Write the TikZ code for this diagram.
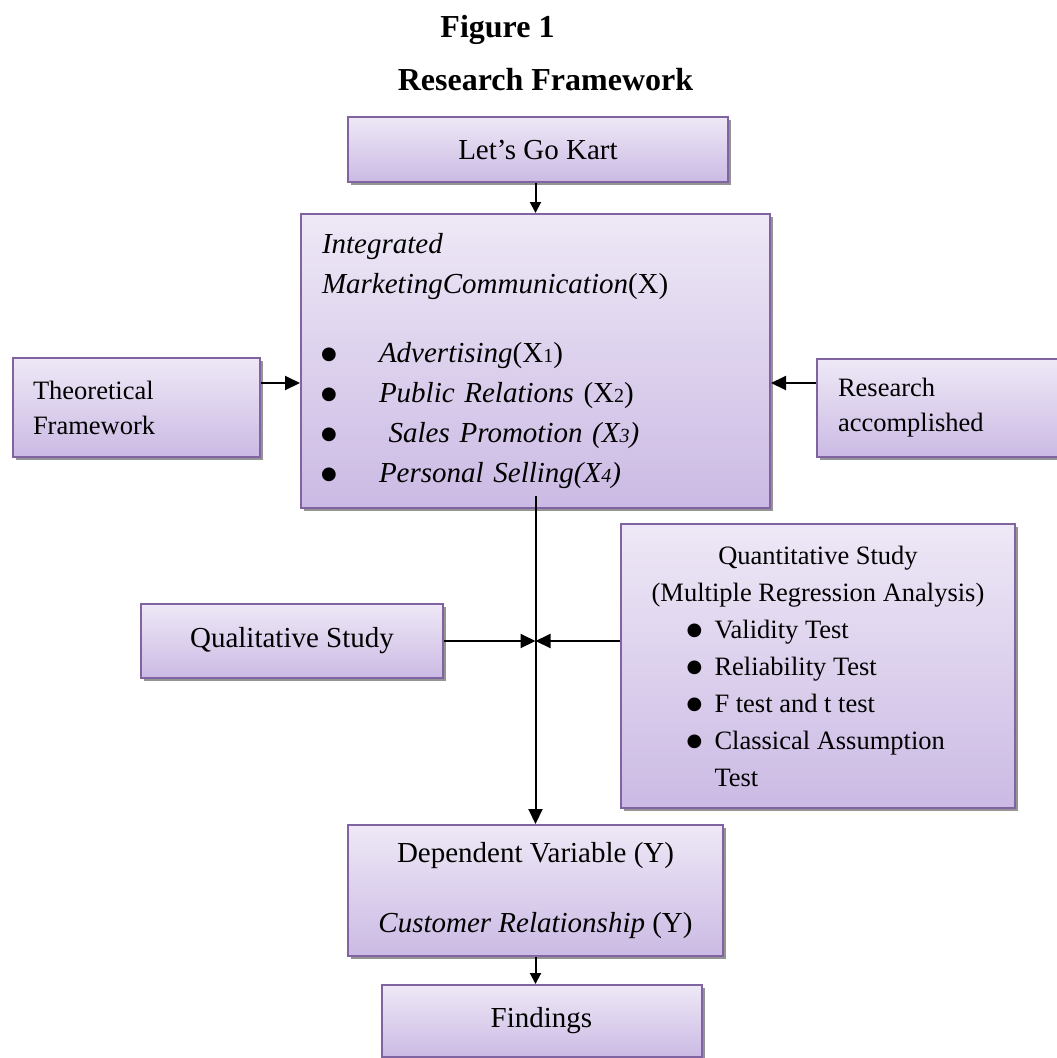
\documentclass[tikz,border=0pt]{standalone}
\usepackage{fontspec}
\setmainfont{Liberation Serif}
\newfontfamily\dotfont{DejaVu Sans}
\usepackage{tikz}
\usetikzlibrary{arrows.meta}
\usetikzlibrary{shadows}
\definecolor{boxtop}{RGB}{238,232,246}
\definecolor{boxbot}{RGB}{203,186,228}
\definecolor{boxline}{RGB}{128,100,162}
\tikzset{box/.style={draw=boxline, line width=2pt, top color=boxtop, bottom color=boxbot,
    drop shadow={shadow xshift=3pt, shadow yshift=-3pt, fill=black!42, opacity=1},
    inner sep=0pt, font=\fontsize{29}{40}\selectfont},
  smallbox/.style={box, font=\fontsize{26.5}{35}\selectfont},
  arr/.style={-{Triangle[length=15pt,width=14pt]}, line width=2pt},
  shortarr/.style={-{Triangle[length=11pt,width=11pt]}, line width=2pt},
  title/.style={font=\bfseries\fontsize{32}{38}\selectfont, anchor=base}}
\newcommand{\bigdot}{\raisebox{3pt}{\dotfont\fontsize{18}{18}\selectfont ●}}
\newcommand{\ibul}{\makebox[57pt][l]{\hspace{-1pt}\bigdot}}
\newcommand{\qitem}[1]{\makebox[333pt][l]{\hspace{35pt}\makebox[28pt][l]{\bigdot}#1}}
\newcommand{\smallnum}[1]{{\fontsize{20}{20}\selectfont #1}}

\begin{document}
\begin{tikzpicture}[x=1pt, y=-1pt]
    \useasboundingbox (0,0) rectangle (1057,1058);
    \clip (0,0) rectangle (1057,1058);

    \node[title] (fig) at (497.5, 37) {Figure 1};
    \node[title] (rf) at (545.5, 90) {Research Framework};

    \node[box, minimum width=380pt, minimum height=65pt] at (538, 149.5) (kart) {Let’s Go Kart};
    \node[box, minimum width=469pt, minimum height=294pt, text width=427pt, align=left] at (535.5, 361) (imc)
      {\textit{Integrated}\\
       \textit{MarketingCommunication}(X)\\[29pt]
       \ibul\textit{Advertising}(X\smallnum{1})\\
       \ibul\textit{Public Relations} (X\smallnum{2})\\
       \ibul\textit{ Sales Promotion (X\smallnum{3})}\\
       \ibul\textit{Personal Selling(X\smallnum{4})}};
    \node[smallbox, minimum width=247pt, minimum height=99pt, text width=207pt, align=left] at (136.5, 407.5) (theo) {Theoretical\\Framework};
    \node[smallbox, minimum width=260pt, minimum height=98pt, text width=218pt, align=left] at (947, 408) (res) {Research\\accomplished};
    \node[box, minimum width=302pt, minimum height=74pt] at (292, 641) (qual) {Qualitative Study};
    \node[smallbox, minimum width=394pt, minimum height=284pt, align=center, font=\fontsize{26.5}{37}\selectfont] at (818, 666) (quant)
      {Quantitative Study\\
       (Multiple Regression Analysis)\\
       \qitem{Validity Test}\\
       \qitem{Reliability Test}\\
       \qitem{F test and t test}\\
       \qitem{Classical Assumption}\\
       \makebox[333pt][l]{\hspace{63pt}Test}};
    \node[box, minimum width=375pt, minimum height=131pt, align=center] at (535.5, 890.5) (dep)
      {Dependent Variable (Y)\\[30pt]\textit{Customer Relationship} (Y)};
    \node[box, minimum width=320pt, minimum height=72pt] at (541.5, 1021) (find) {Findings};

    \coordinate (tl) at (0, 383);
    \coordinate (mid) at (imc.south |- qual.east);

    \draw[shortarr] (kart.south -| imc.north) -- (imc.north);
    \draw[arr] (theo.east |- tl) -- (imc.west |- tl);
    \draw[arr] (res.west |- tl) -- (imc.east |- tl);
    \draw[arr] ([yshift=13pt]imc.south) -- (dep.north);
    \draw[arr] (qual.east) -- (mid);
    \draw[arr] (quant.west |- mid) -- (mid);
    \draw[shortarr] (dep.south) -- (dep.south |- find.north);
\end{tikzpicture}
\end{document}
